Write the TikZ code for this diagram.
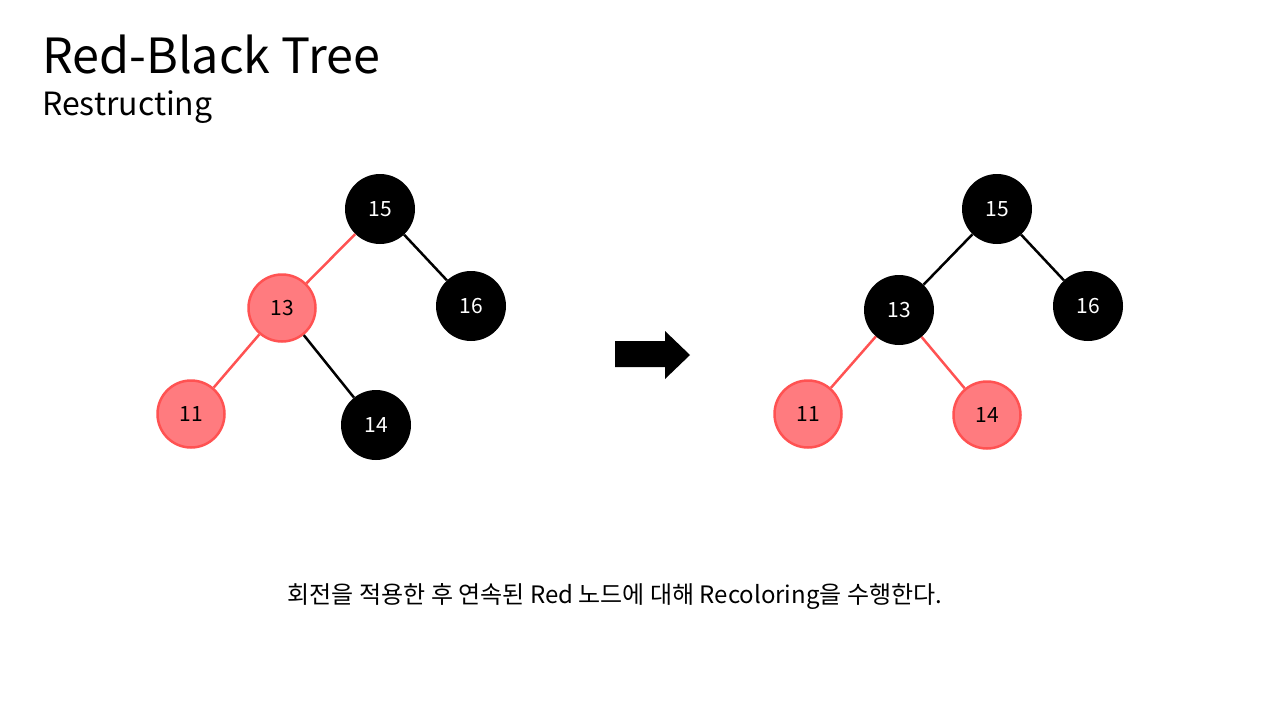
\documentclass[tikz,border=0pt]{standalone}
\usepackage{fontspec}
\setmainfont{Noto Sans CJK KR}
\usetikzlibrary{arrows.meta,positioning}
\definecolor{redfill}{HTML}{FF7B7F}
\definecolor{redline}{HTML}{FF5252}
\begin{document}
\begin{tikzpicture}[x=1pt, y=-1pt, every node/.style={font=\fontsize{21}{25}\selectfont},
      blk/.style={circle, fill=black, text=white, minimum size=70pt, inner sep=0pt},
      red/.style={circle, fill=redfill, draw=redline, line width=2.5pt, text=black, minimum size=67pt, inner sep=0pt},
      bedge/.style={draw=black, line width=2.5pt},
      redge/.style={draw=redline, line width=2.5pt}]
    \useasboundingbox (0,0) rectangle (1280,720);
    % headings
    \node[anchor=base west, inner sep=0pt, font=\fontsize{48.5}{52}\selectfont] (title) at (42,73) {Red-Black Tree};
    \node[anchor=base west, inner sep=0pt, font=\fontsize{32}{36}\selectfont] (sub) at (42,115) {Restructing};
    % before
    \node[blk] (a15) at (380,209) {15};
    \node[red] (a13) at (282,308) {13};
    \node[blk] (a16) at (471,306) {16};
    \node[red] (a11) at (191,414) {11};
    \node[blk] (a14) at (376,425) {14};
    \draw[redge] (a15) -- (a13); \draw[bedge] (a15) -- (a16);
    \draw[redge] (a13) -- (a11); \draw[bedge] (a13) -- (a14);
    % arrow
    \fill (615,341) -- (665,341) -- (665,331) -- (690,355) -- (665,379) -- (665,367) -- (615,367) -- cycle;
    % after
    \node[blk] (b15) at (997,209) {15};
    \node[blk] (b13) at (899,310) {13};
    \node[blk] (b16) at (1088,306) {16};
    \node[red] (b11) at (808,414) {11};
    \node[red] (b14) at (987,415) {14};
    \draw[bedge] (b15) -- (b13); \draw[bedge] (b15) -- (b16);
    \draw[redge] (b13) -- (b11); \draw[redge] (b13) -- (b14);
    % caption
    \node[font=\fontsize{24}{28}\selectfont] (note) at (615,597) {회전을 적용한 후 연속된 Red 노드에 대해 Recoloring을 수행한다.};
  \end{tikzpicture}
\end{document}
